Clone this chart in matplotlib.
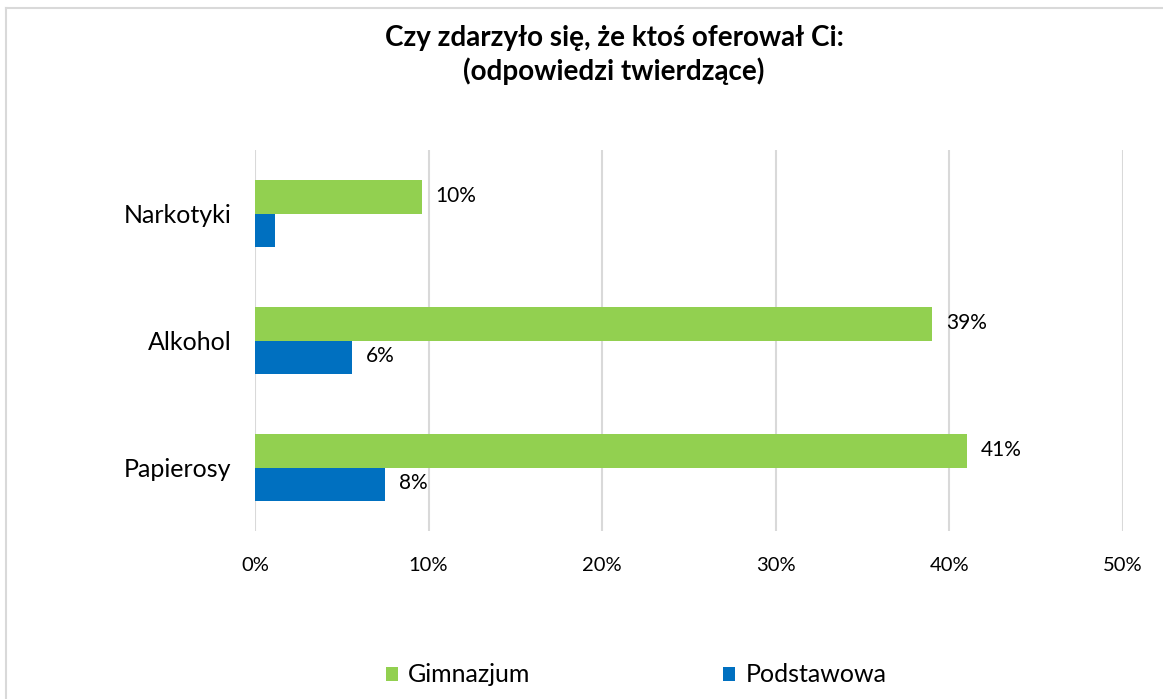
import matplotlib
matplotlib.use("Agg")
import matplotlib.pyplot as plt
from matplotlib.lines import Line2D
from matplotlib.patches import Patch

plt.rcParams['font.family'] = ['Lato', 'DejaVu Sans']

categories = ["Narkotyki", "Alkohol", "Papierosy"]
series_names = ["Gimnazjum", "Podstawowa"]
gimnazjum = [9.6, 39.0, 41.0]
podstawowa = [1.15, 5.6, 7.5]
gim_labels = ["10%", "39%", "41%"]
pod_labels = ["", "6%", "8%"]
xticks = [0, 10, 20, 30, 40, 50]
xtick_labels = ["0%", "10%", "20%", "30%", "40%", "50%"]
title = "Czy zdarzyło się, że ktoś oferował Ci:\n(odpowiedzi twierdzące)"

green = "#92D050"
blue = "#0070C0"
grid = "#D9D9D9"

fig = plt.figure(figsize=(11.63, 6.99), dpi=100)
ax = fig.add_axes([255/1163, 1 - 531/699, 868/1163, 381/699])

h = 0.26
ys = list(range(len(categories)))
ax.barh([y - h/2 for y in ys], gimnazjum, height=h, color=green, zorder=3)
ax.barh([y + h/2 for y in ys], podstawowa, height=h, color=blue, zorder=3)

for y, v, lab in zip(ys, gimnazjum, gim_labels):
    if lab:
        ax.annotate(lab, (v, y - h/2), xytext=(10, 1), textcoords="offset points",
                    va="center", ha="left", fontsize=15, color="#000000")
for y, v, lab in zip(ys, podstawowa, pod_labels):
    if lab:
        ax.annotate(lab, (v, y + h/2), xytext=(10, 1), textcoords="offset points",
                    va="center", ha="left", fontsize=15, color="#000000")

ax.set_xlim(0, 50)
ax.set_ylim(2.5, -0.5)
ax.set_yticks(ys)
ax.set_yticklabels(categories, fontsize=18)
ax.set_xticks(xticks)
ax.set_xticklabels(xtick_labels, fontsize=14.5)
ax.tick_params(axis="both", length=0)
ax.tick_params(axis="y", pad=17)
ax.tick_params(axis="x", pad=19)
ax.xaxis.grid(True, color=grid, linewidth=1.5, zorder=0)
for s in ax.spines.values():
    s.set_visible(False)

fig.text(614/1163, 1 - 55/699, title, ha="center", va="center",
         fontsize=20, fontweight="bold", linespacing=1.3)

handles = [Patch(facecolor=green, edgecolor="none"), Patch(facecolor=blue, edgecolor="none")]
leg = fig.legend(handles, series_names, loc="center", bbox_to_anchor=(636/1163, 1 - 675/699),
                 ncol=2, frameon=False, fontsize=18, handlelength=0.5, handleheight=0.5,
                 handletextpad=0.4, columnspacing=7.7)

# partial frame (top and left visible)
fig.add_artist(Line2D([6/1163, 1], [1 - 8/699, 1 - 8/699], color="#D9D9D9", linewidth=1.5))
fig.add_artist(Line2D([6/1163, 6/1163], [0, 1 - 8/699], color="#D9D9D9", linewidth=1.5))

fig.savefig("out.png", dpi=100, facecolor="white")
